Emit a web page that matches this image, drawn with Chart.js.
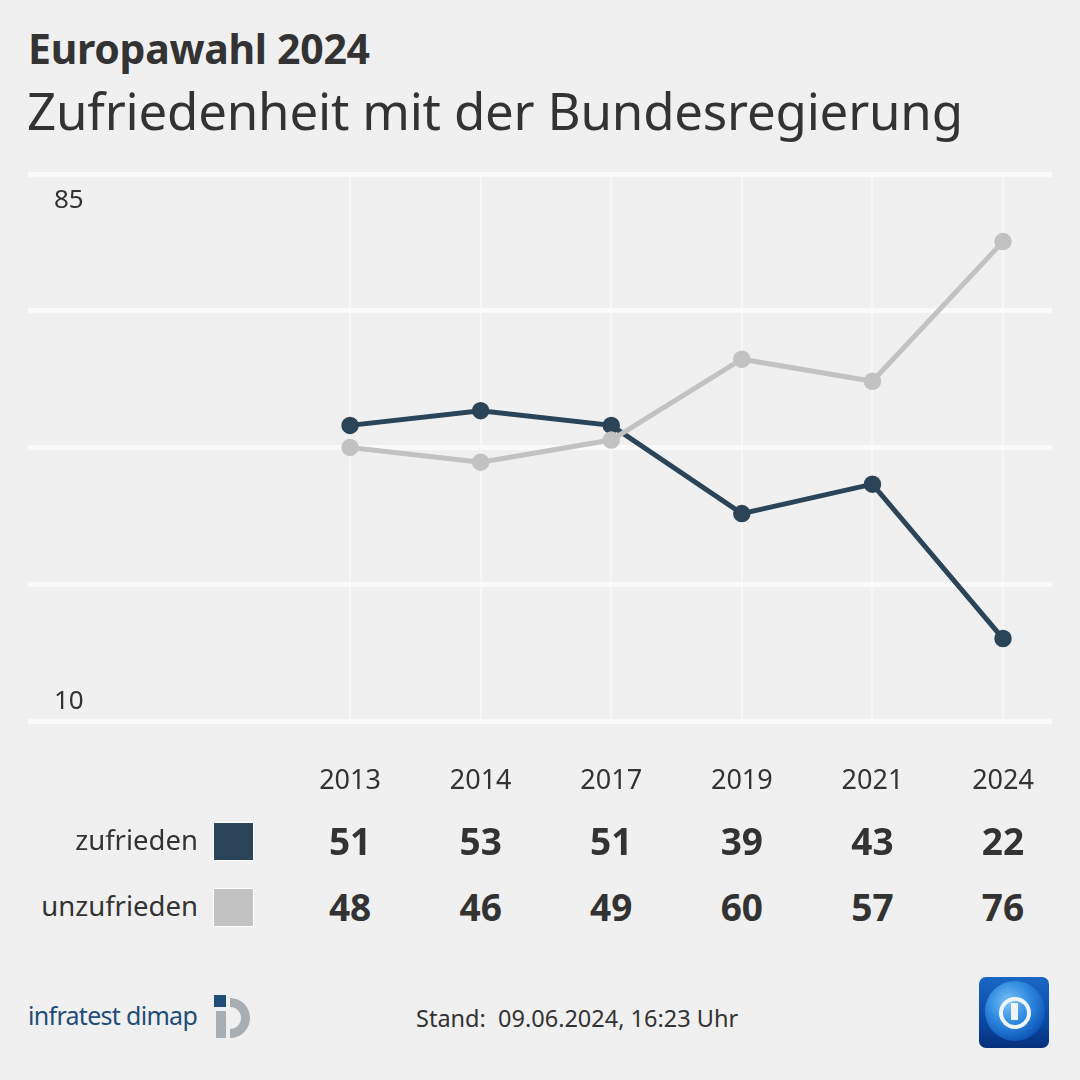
<!DOCTYPE html>
<html lang="de">
<head>
<meta charset="utf-8">
<title>Zufriedenheit mit der Bundesregierung</title>
<script src="https://cdn.jsdelivr.net/npm/chart.js@4"></script>
<style>
  html, body { margin: 0; padding: 0; }
  body {
    width: 1080px; height: 1080px; position: relative; overflow: hidden;
    background: #f0f0f0; color: #333; font-family: "Noto Sans", sans-serif;
  }
  .t1 { position: absolute; left: 28px; top: 20px; margin: 0; font-size: 41px; font-weight: 700; color: #333; letter-spacing: -0.3px; }
  .t2 { position: absolute; left: 27px; top: 75px; margin: 0; font-size: 51px; font-weight: 400; color: #333; letter-spacing: -0.2px; }
  #wrap { position: absolute; left: 0; top: 140px; width: 1080px; height: 702px; }
  .lbl { position: absolute; font-size: 27.5px; color: #333; text-align: right; width: 192px; left: 6px; line-height: 32px; }
  .sw { position: absolute; left: 213px; width: 39px; height: 37px; border: 1px solid #fff; }
  .val { position: absolute; width: 100px; margin-left: -50px; text-align: center; font-size: 37px; font-weight: 700; color: #333; line-height: 42px; }
  .stand { position: absolute; left: 416px; top: 1002px; font-size: 23.5px; color: #333; }
  .infra { position: absolute; left: 28px; top: 998px; font-size: 25px; color: #1f4d78; letter-spacing: -0.7px; }
  .ilogo { position: absolute; left: 214px; top: 995px; width: 44px; height: 44px; }
  .ts { position: absolute; left: 979px; top: 977px; width: 70px; height: 71px; border-radius: 7px; overflow: hidden;
        background: linear-gradient(180deg, #1a66c4 0%, #0b4aa6 60%, #05307a 100%); }
  .ts .globe { position: absolute; left: 6px; top: 4px; width: 60px; height: 60px; border-radius: 50%;
        background: radial-gradient(circle at 40% 35%, #7cc4f5 0%, #2f8ae0 40%, #0d55b8 75%, #0a3f94 100%); }
  .ts .ring { position: absolute; left: 20px; top: 20px; width: 24px; height: 24px; border: 4px solid #eef5fc; border-radius: 50%; }
  .ts .one { position: absolute; left: 32px; top: 26px; width: 7px; height: 17px; background: #eef5fc; }
</style>
</head>
<body>
<h1 class="t1">Europawahl 2024</h1>
<h2 class="t2">Zufriedenheit mit der Bundesregierung</h2>
<div id="wrap"><canvas id="chart"></canvas></div>
<div id="table"></div>
<div class="infra">infratest dimap</div>
<svg class="ilogo" viewBox="0 0 44 44">
  <rect x="0" y="0" width="12" height="12" fill="#1f4d78"/>
  <path d="M16 3 A20 20 0 1 1 16 43 L16 34 A11 11 0 1 0 16 12 Z" fill="#a9aeb3"/>
  <rect x="2" y="16" width="10" height="27" fill="#a9aeb3"/>
</svg>
<div class="stand">Stand:&nbsp; 09.06.2024, 16:23 Uhr</div>
<div class="ts"><div class="globe"></div><div class="ring"></div><div class="one"></div></div>

<script>
// ===== Data =====
const years = ["2013", "2014", "2017", "2019", "2021", "2024"];
const seriesNames = ["zufrieden", "unzufrieden"];
const zufrieden = [51, 53, 51, 39, 43, 22];
const unzufrieden = [48, 46, 49, 60, 57, 76];
const yTickLabels = ["85", "10"];

const colors = ["#2b4457", "#c2c2c2"];

// ===== Chart =====
const toPoints = arr => arr.map((v, i) => ({ x: i, y: v }));

const cornerLabels = {
  id: "cornerLabels",
  afterDraw(chart) {
    const { ctx, chartArea } = chart;
    ctx.save();
    ctx.font = '26px "Noto Sans", sans-serif';
    ctx.fillStyle = "#333";
    ctx.textAlign = "left";
    ctx.textBaseline = "middle";
    ctx.fillText(yTickLabels[0], 54, chartArea.top + 27);
    ctx.fillText(yTickLabels[1], 54, chartArea.bottom - 20);
    ctx.restore();
  }
};

const chart = new Chart(document.getElementById("chart"), {
  type: "line",
  data: {
    datasets: [
      {
        label: seriesNames[1], data: toPoints(unzufrieden), order: 0,
        borderColor: colors[1], backgroundColor: colors[1]
      },
      {
        label: seriesNames[0], data: toPoints(zufrieden), order: 1,
        borderColor: colors[0], backgroundColor: colors[0]
      }
    ]
  },
  options: {
    responsive: true,
    maintainAspectRatio: false,
    animation: false,
    layout: { padding: { left: 28, right: 28, top: 34, bottom: 0 } },
    elements: {
      line: { borderWidth: 5, tension: 0 },
      point: { radius: 8, borderWidth: 1.5, borderColor: "#f4f4f4" }
    },
    plugins: { legend: { display: false }, tooltip: { enabled: false } },
    scales: {
      x: {
        type: "linear",
        min: -2.466, max: 5.375,
        afterBuildTicks: s => { s.ticks = years.map((y, i) => ({ value: i })); },
        grid: { color: "#f7f7f7", lineWidth: 2, drawTicks: false },
        border: { display: false },
        ticks: {
          callback: v => years[v] ?? "",
          color: "#333", font: { family: "Noto Sans", size: 27 },
          padding: 44, maxRotation: 0, autoSkip: false
        }
      },
      y: {
        min: 10.7, max: 85.2,
        afterBuildTicks: s => {
          const n = 4, step = (s.max - s.min) / n;
          s.ticks = Array.from({ length: n + 1 }, (_, i) => ({ value: s.min + i * step }));
        },
        grid: { color: "#fafafa", lineWidth: 5, drawTicks: false },
        border: { display: false },
        ticks: { display: false }
      }
    }
  },
  plugins: [cornerLabels]
});

// ===== Table under the chart =====
const table = document.getElementById("table");
const rowsY = [842, 908];
[zufrieden, unzufrieden].forEach((vals, r) => {
  const y = rowsY[r];
  table.innerHTML += `<div class="lbl" style="top:${y - 18}px">${seriesNames[r]}</div>`;
  table.innerHTML += `<div class="sw" style="top:${y - 20}px;background:${colors[r]}"></div>`;
  vals.forEach((v, i) => {
    const x = chart.scales.x.getPixelForValue(i);
    table.innerHTML += `<div class="val" style="left:${x}px;top:${y - 22}px">${v}</div>`;
  });
});
</script>
</body>
</html>
